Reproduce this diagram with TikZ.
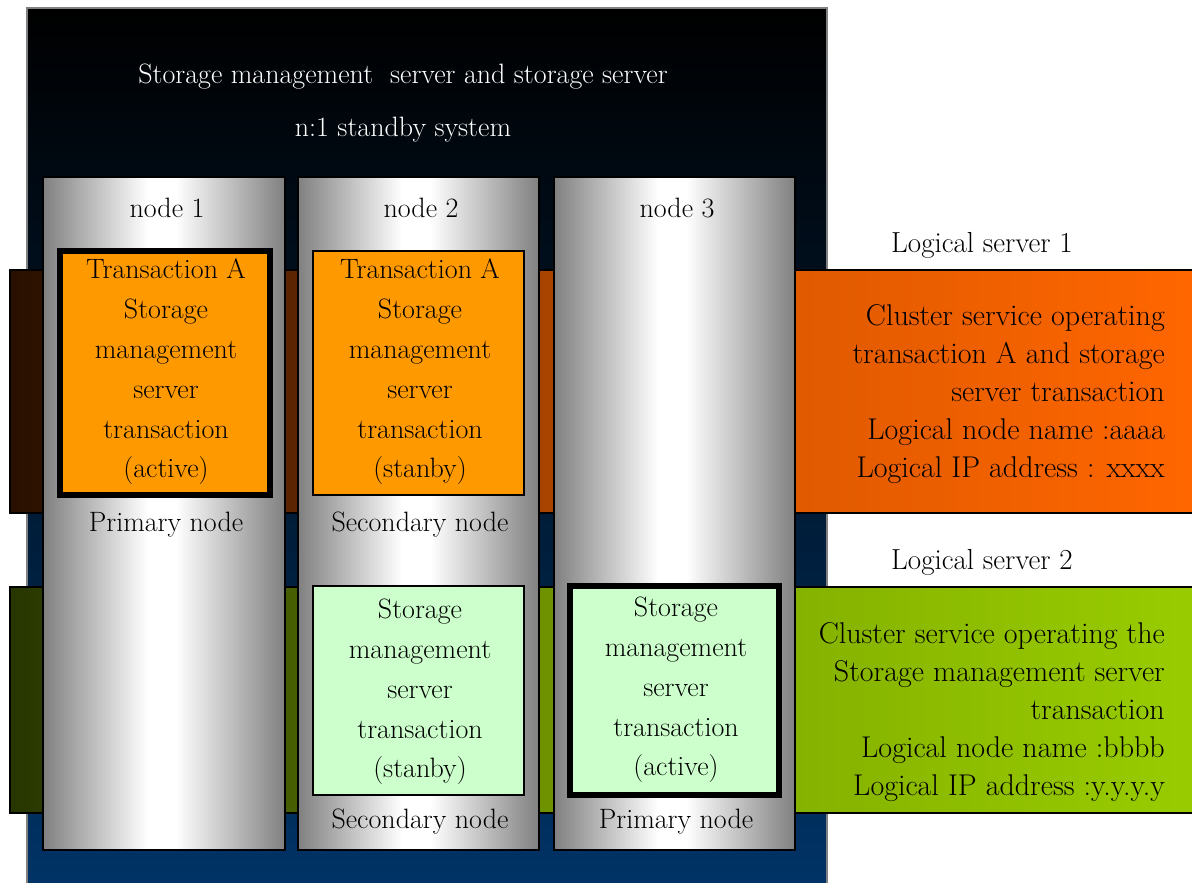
\documentclass[tikz,border=0pt]{standalone}
\definecolor{colgray}{RGB}{128,128,128}
\definecolor{bgmid}{RGB}{0,24,48}
\definecolor{bgbot}{RGB}{0,51,102}
\definecolor{oA}{RGB}{40,16,0}
\definecolor{oB}{RGB}{92,36,0}
\definecolor{oC}{RGB}{168,68,0}
\definecolor{oD}{RGB}{224,90,0}
\definecolor{oE}{RGB}{255,102,0}
\definecolor{gA}{RGB}{40,54,0}
\definecolor{gB}{RGB}{70,94,0}
\definecolor{gC}{RGB}{111,146,0}
\definecolor{gD}{RGB}{133,178,0}
\definecolor{gE}{RGB}{153,204,0}
\definecolor{boxorange}{RGB}{255,153,0}
\definecolor{boxgreen}{RGB}{204,255,204}
\newcommand{\drawcol}[2]{%
  \pgfmathsetmacro{\colxa}{#1+0.43*(#2-#1)}%
  \pgfmathsetmacro{\colxb}{#1+0.55*(#2-#1)}%
  \shade[left color=colgray,right color=white] (#1,177) rectangle (\colxa+0.5,850);
  \fill[white] (\colxa,177) rectangle (\colxb,850);
  \shade[left color=white,right color=colgray] (\colxb-0.5,177) rectangle (#2,850);
  \draw[line width=2pt] (#1,177) rectangle (#2,850);
}
\tikzset{
  txt/.style={font=\fontsize{28}{39.8}\selectfont, align=center, inner sep=0pt},
  ltxt/.style={font=\fontsize{29}{34}\selectfont, inner sep=0pt},
  rtxt/.style={font=\fontsize{30}{38}\selectfont, align=right, inner sep=0pt, anchor=east},
  wtxt/.style={font=\fontsize{28}{32}\selectfont, text=white, inner sep=0pt},
  thinbox/.style={draw=black, line width=1.5pt},
  thickbox/.style={draw=black, line width=6pt},
}
\begin{document}
\begin{tikzpicture}[x=1pt,y=-1pt]
\useasboundingbox (0,0) rectangle (1192,883);
\fill[white] (0,0) rectangle (1192,883);
% background panel
\shade[top color=black,bottom color=bgmid] (27,8) rectangle (827,451);
\shade[top color=bgmid,bottom color=bgbot] (27,450) rectangle (827,883);
\draw[colgray,line width=1.5pt] (27,883) -- (27,8) -- (827,8) -- (827,883);
\node[wtxt] (title1) at (403,77) {Storage management\ \ server and storage server};
\node[wtxt] (title2) at (403,130) {n:1 standby system};
% band 1 (orange)
\shade[left color=oA,right color=oB] (10,270) rectangle (292,513);
\shade[left color=oB,right color=oC] (291,270) rectangle (547,513);
\shade[left color=oC,right color=oD] (546,270) rectangle (796,513);
\shade[left color=oD,right color=oE] (795,270) rectangle (1192,513);
\draw[line width=2pt] (1193,270) -- (10,270) -- (10,513) -- (1193,513);
% band 2 (green)
\shade[left color=gA,right color=gB] (10,587) rectangle (292,813);
\shade[left color=gB,right color=gC] (291,587) rectangle (547,813);
\shade[left color=gC,right color=gD] (546,587) rectangle (796,813);
\shade[left color=gD,right color=gE] (795,587) rectangle (1192,813);
\draw[line width=2pt] (1193,587) -- (10,587) -- (10,813) -- (1193,813);
% columns
\drawcol{43}{285}
\drawcol{298}{539}
\drawcol{554}{795}
\node[txt] (n1) at (167,208) {node 1};
\node[txt] (n2) at (421,208) {node 2};
\node[txt] (n3) at (677,208) {node 3};
% boxes
\draw[thickbox,fill=boxorange] (60,251) rectangle (270,495);
\node[txt] (b1) at (166,372) {Transaction A\\Storage\\management\\server\\transaction\\(active)};
\draw[thinbox,fill=boxorange] (313,251) rectangle (524,495);
\node[txt] (b2) at (420,372) {Transaction A\\Storage\\management\\server\\transaction\\(stanby)};
\draw[thinbox,fill=boxgreen] (313,586) rectangle (524,795);
\node[txt] (b3) at (420,692) {Storage\\management\\server\\transaction\\(stanby)};
\draw[thickbox,fill=boxgreen] (570,586) rectangle (779,795);
\node[txt] (b4) at (676,690) {Storage\\management\\server\\transaction\\(active)};
\node[txt] (p1) at (166,525) {Primary node};
\node[txt] (s1) at (420,525) {Secondary node};
\node[txt] (s2) at (420,822) {Secondary node};
\node[txt] (p2) at (676,822) {Primary node};
% logical servers
\node[ltxt] (ls1) at (982,245) {Logical server 1};
\node[ltxt] (ls2) at (982,562) {Logical server 2};
\node[rtxt] (r1) at (1165,394) {Cluster service operating\\transaction A and storage\\server transaction\\Logical node name :aaaa\\Logical IP address : xxxx};
\node[rtxt] (r2) at (1165,712) {Cluster service operating the\\Storage management server\\transaction\\Logical node name :bbbb\\Logical IP address :y.y.y.y};
\end{tikzpicture}
\end{document}
